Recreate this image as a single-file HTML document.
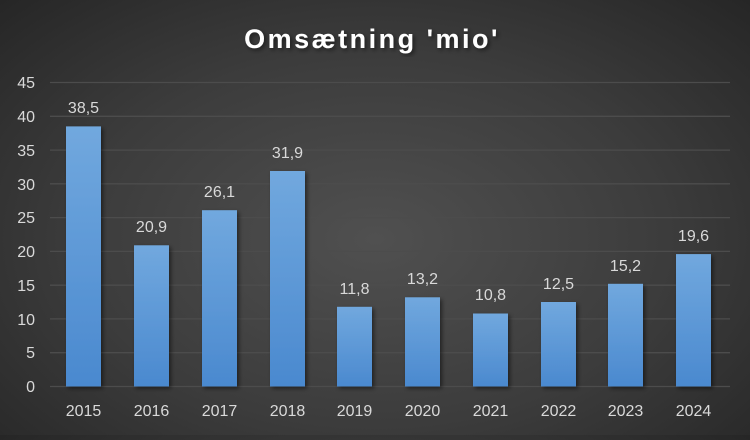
<!DOCTYPE html>
<html><head><style>
body{margin:0;width:750px;height:435px;overflow:hidden;background:radial-gradient(ellipse at 50% 55%,#505050 0%,#3c3c3c 55%,#262626 100%);font-family:"Liberation Sans",sans-serif}
</style></head><body>
<svg width="750" height="435" xmlns="http://www.w3.org/2000/svg">
<defs><linearGradient id="g" x1="0" y1="0" x2="0" y2="1"><stop offset="0" stop-color="#71a8de"/><stop offset="1" stop-color="#4a89cf"/></linearGradient>
<filter id="s"><feDropShadow dx="2" dy="2" stdDeviation="2" flood-color="#000" flood-opacity="0.5"/></filter></defs>
<text x="372" y="48" text-anchor="middle" fill="#fff" font-size="27" font-weight="bold" letter-spacing="2.5" filter="url(#s)">Omsætning 'mio'</text>
<g stroke="#4c4c4c" stroke-width="1.3">
<line x1="50" x2="730" y1="82.5" y2="82.5"/><line x1="50" x2="730" y1="116.3" y2="116.3"/><line x1="50" x2="730" y1="150.1" y2="150.1"/><line x1="50" x2="730" y1="183.8" y2="183.8"/><line x1="50" x2="730" y1="217.6" y2="217.6"/><line x1="50" x2="730" y1="251.4" y2="251.4"/><line x1="50" x2="730" y1="285.2" y2="285.2"/><line x1="50" x2="730" y1="318.9" y2="318.9"/><line x1="50" x2="730" y1="352.7" y2="352.7"/><line x1="50" x2="730" y1="386.5" y2="386.5"/>
</g>
<g fill="#d9d9d9" font-size="16" text-anchor="end">
<text x="35" y="88">45</text><text x="35" y="122">40</text><text x="35" y="156">35</text><text x="35" y="190">30</text><text x="35" y="223">25</text><text x="35" y="257">20</text><text x="35" y="291">15</text><text x="35" y="325">10</text><text x="35" y="358">5</text><text x="35" y="392">0</text>
</g>
<g fill="url(#g)" filter="url(#s)">
<rect x="66" y="126.4" width="35" height="260.1"/>
<rect x="134" y="245.3" width="35" height="141.2"/>
<rect x="202" y="210.2" width="35" height="176.3"/>
<rect x="270" y="171" width="35" height="215.5"/>
<rect x="337" y="306.8" width="35" height="79.7"/>
<rect x="405" y="297.3" width="35" height="89.2"/>
<rect x="473" y="313.5" width="35" height="73"/>
<rect x="541" y="302" width="35" height="84.5"/>
<rect x="608" y="283.8" width="35" height="102.7"/>
<rect x="676" y="254.1" width="35" height="132.4"/>
</g>
<g fill="#d9d9d9" font-size="16" text-anchor="middle">
<text x="83.5" y="113">38,5</text><text x="151.5" y="232">20,9</text><text x="219.5" y="197">26,1</text><text x="287.5" y="158">31,9</text><text x="354.5" y="294">11,8</text><text x="422.5" y="284">13,2</text><text x="490.5" y="300">10,8</text><text x="558.5" y="289">12,5</text><text x="625.5" y="271">15,2</text><text x="693.5" y="241">19,6</text>
</g>
<g fill="#d9d9d9" font-size="16" text-anchor="middle">
<text x="83.5" y="416">2015</text><text x="151.5" y="416">2016</text><text x="219.5" y="416">2017</text><text x="287.5" y="416">2018</text><text x="354.5" y="416">2019</text><text x="422.5" y="416">2020</text><text x="490.5" y="416">2021</text><text x="558.5" y="416">2022</text><text x="625.5" y="416">2023</text><text x="693.5" y="416">2024</text>
</g>
</svg>
</body></html>
